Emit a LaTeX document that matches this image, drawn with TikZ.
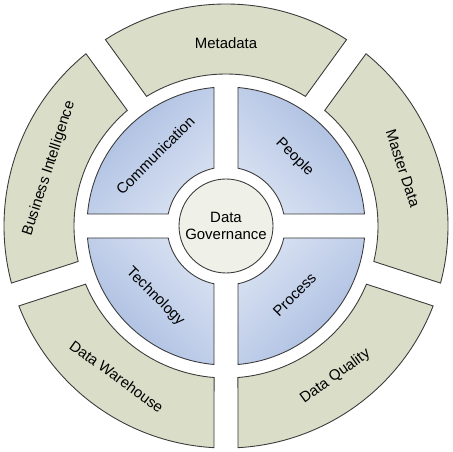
\documentclass[tikz,border=0pt]{standalone}
\usepackage{fontspec}
\setmainfont{Liberation Sans}
\usepackage{tikz}
\usetikzlibrary{positioning,calc}
\usepackage{xcolor}
\definecolor{ringfill}{HTML}{DADEC8}
\definecolor{hubfill}{HTML}{EFF0E8}
\definecolor{bluedark}{HTML}{A6BADF}
\definecolor{bluelight}{HTML}{D8E1F2}
\definecolor{edgegray}{HTML}{3A3A3A}

\begin{document}
\begin{tikzpicture}[
    x=0.02cm,y=0.02cm,
    outerpart/.style={draw=edgegray,line width=0.5pt,fill=ringfill},
    innerpart/.style={draw=edgegray,line width=0.5pt,top color=bluedark,bottom color=bluelight},
    lbl/.style={font=\fontsize{8.5}{10}\selectfont,text=black,inner sep=0pt},
]
\useasboundingbox[fill=white] (-226,-226) rectangle (226,226);

% outer ring, five parts
\draw[outerpart] (122.9:222) arc[start angle=122.9,end angle=57.1,radius=222] -- (58.5:152) arc[start angle=58.5,end angle=121.5,radius=152] -- cycle;
\draw[outerpart] (50.9:222) arc[start angle=50.9,end angle=-14.9,radius=222] -- (-13.5:152) arc[start angle=-13.5,end angle=49.5,radius=152] -- cycle;
\draw[outerpart] (-21.1:222) arc[start angle=-21.1,end angle=-86.9,radius=222] -- (-85.5:152) arc[start angle=-85.5,end angle=-22.5,radius=152] -- cycle;
\draw[outerpart] (-93.1:222) arc[start angle=-93.1,end angle=-158.9,radius=222] -- (-157.5:152) arc[start angle=-157.5,end angle=-94.5,radius=152] -- cycle;
\draw[outerpart] (194.9:222) arc[start angle=194.9,end angle=129.1,radius=222] -- (130.5:152) arc[start angle=130.5,end angle=193.5,radius=152] -- cycle;

% inner quadrants
\draw[innerpart,shading angle=45] (175.05:139) arc[start angle=175.05,end angle=94.95,radius=139] -- (101.74:59) arc[start angle=101.74,end angle=168.26,radius=59] -- cycle;
\draw[innerpart,shading angle=-45] (85.05:139) arc[start angle=85.05,end angle=4.95,radius=139] -- (11.74:59) arc[start angle=11.74,end angle=78.26,radius=59] -- cycle;
\draw[innerpart,shading angle=-135] (-4.95:139) arc[start angle=-4.95,end angle=-85.05,radius=139] -- (-78.26:59) arc[start angle=-78.26,end angle=-11.74,radius=59] -- cycle;
\draw[innerpart,shading angle=135] (-94.95:139) arc[start angle=-94.95,end angle=-175.05,radius=139] -- (-168.26:59) arc[start angle=-168.26,end angle=-101.74,radius=59] -- cycle;

% hub
\node[circle,draw=edgegray,line width=0.5pt,fill=hubfill,minimum size=94*0.02cm,inner sep=0pt,
      lbl,align=center] (hub) at (0,0) {Data\\Governance};

% labels
\node[lbl] (meta)  at (90:183)   {Metadata};
\node[lbl,rotate=-72] (master) at (18:186) {Master Data};
\node[lbl,rotate=36] (quality) at (-54:186) {Data Quality};
\node[lbl,rotate=-36] (dwh) at (-126:186) {Data Warehouse};
\node[lbl,rotate=72] (bi) at (162:186) {Business Intelligence};

\node[lbl,rotate=45] (comm) at (135:100) {Communication};
\node[lbl,rotate=-45] (people) at (45:97) {People};
\node[lbl,rotate=45] (process) at (-45:97) {Process};
\node[lbl,rotate=-45] (tech) at (-135:100) {Technology};
\end{tikzpicture}
\end{document}
